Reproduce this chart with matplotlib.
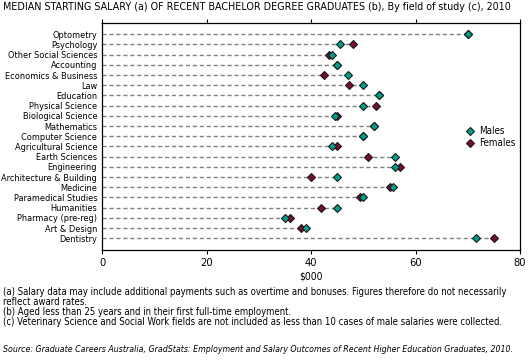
import matplotlib
matplotlib.use("Agg")
import matplotlib.pyplot as plt
from matplotlib import font_manager
from matplotlib.font_manager import FontProperties

# ---- pick a condensed sans font if one is installed ----
reg_path, obl_path = None, None
files = [f.fname for f in font_manager.fontManager.ttflist]
for key in ["LiberationSansNarrow-Regular", "DejaVuSansCondensed.ttf", "RobotoCondensed-Regular",
            "OpenSans_Condensed-Regular", "OpenSansCondensed"]:
    hits = [p for p in files if key in p.replace(" ", "")]
    if hits:
        reg_path = hits[0]
        break
for key in ["LiberationSansNarrow-Italic", "DejaVuSansCondensed-Oblique", "RobotoCondensed-Italic"]:
    hits = [p for p in files if key in p.replace(" ", "")]
    if hits:
        obl_path = hits[0]
        break


def fp(size, italic=False):
    if italic:
        if obl_path:
            return FontProperties(fname=obl_path, size=size)
        return FontProperties(family=["Liberation Sans", "DejaVu Sans"], style="italic", size=size)
    if reg_path:
        return FontProperties(fname=reg_path, size=size)
    return FontProperties(family=["Liberation Sans", "DejaVu Sans"], size=size)


categories = ["Optometry", "Psychology", "Other Social Sciences", "Accounting",
              "Economics & Business", "Law", "Education", "Physical Science",
              "Biological Science", "Mathematics", "Computer Science",
              "Agricultural Science", "Earth Sciences", "Engineering",
              "Architecture & Building", "Medicine", "Paramedical Studies",
              "Humanities", "Pharmacy (pre-reg)", "Art & Design", "Dentistry"]
males = [70, 45.6, 44, 45, 47, 50, 53, 50, 44.5, 52, 50, 44, 56, 56, 45,
         55.6, 50, 45, 35, 39, 71.5]
females = [70, 48, 43.5, 45, 42.5, 47.3, 53, 52.5, 45, 52, 50, 45, 51, 57,
           40, 55.1, 49.4, 42, 36, 38, 75]
xticks = [0, 20, 40, 60, 80]

W, H = 529, 363
fig = plt.figure(figsize=(W / 100, H / 100), dpi=100)
ax = fig.add_axes([102 / W, 1 - 250 / H, (520 - 102) / W, (250 - 23) / H])

ypos = list(range(len(categories)))
ends = [max(m, f) for m, f in zip(males, females)]
ax.hlines(ypos, 0, ends, colors="#808080", linestyles=(0, (3, 2)), linewidth=1.0, zorder=1)
ax.plot(males, ypos, linestyle="none", marker="D", markersize=4.0,
        markerfacecolor="#00a08a", markeredgecolor="#1a1a1a", markeredgewidth=0.8,
        label="Males", zorder=3)
ax.plot(females, ypos, linestyle="none", marker="D", markersize=4.0,
        markerfacecolor="#7a0a3c", markeredgecolor="#1a1a1a", markeredgewidth=0.8,
        label="Females", zorder=2)

ax.set_xlim(0, 80)
ax.set_ylim(21.15, -1.1)
ax.set_xticks(xticks)
ax.set_xticklabels([str(t) for t in xticks])
ax.set_yticks(ypos)
ax.set_yticklabels(categories)
ax.tick_params(axis="y", length=0, pad=3.5)
ax.tick_params(axis="x", length=3, width=0.8, pad=2.5, top=True, direction="out")
for s in ax.spines.values():
    s.set_linewidth(0.9)
xl = ax.set_xlabel("$000", labelpad=3)

title = fig.text(3 / W, 1 - 7 / H,
                 "MEDIAN STARTING SALARY (a) OF RECENT BACHELOR DEGREE GRADUATES (b), By field of study (c), 2010",
                 va="center", ha="left")

notes = ["(a) Salary data may include additional payments such as overtime and bonuses. Figures therefore do not necessarily",
         "reflect award rates.",
         "(b) Aged less than 25 years and in their first full-time employment.",
         "(c) Veterinary Science and Social Work fields are not included as less than 10 cases of male salaries were collected."]
note_txts = [fig.text(3 / W, 1 - (292 + 10 * i) / H, n, va="center", ha="left") for i, n in enumerate(notes)]
src = fig.text(3 / W, 1 - 350 / H,
               "Source: Graduate Careers Australia, GradStats: Employment and Salary Outcomes of Recent Higher Education Graduates, 2010.",
               va="center", ha="left")

# ---- size texts so their widths match the reference ----
fig.canvas.draw()
r = fig.canvas.get_renderer()


def width_at(t, prop):
    t.set_fontproperties(prop)
    return t.get_window_extent(r).width


def fit(texts, ref, target, italic=False, cap=9.0):
    w = width_at(ref, fp(10, italic))
    size = min(cap, 10 * target / w)
    for t in texts:
        t.set_fontproperties(fp(size, italic))
    return size


fit([title], title, 505)
ylabs = ax.get_yticklabels()
arch = [t for t in ylabs if t.get_text() == "Architecture & Building"][0]
ysz = fit(ylabs, arch, 95)
for t in ax.get_xticklabels():
    t.set_fontproperties(fp(8))
xl.set_fontproperties(fp(7.5))
fit(note_txts, note_txts[3], 500)
fit([src], src, 509, italic=True)

ax.legend(loc="upper left", bbox_to_anchor=((467 - 102) / 418, (250 - 126) / 227),
          frameon=False, handlelength=0.6, handletextpad=0.6, prop=fp(max(ysz, 7.0)),
          borderpad=0, labelspacing=0.2, borderaxespad=0)

fig.savefig("out.png", dpi=100)
